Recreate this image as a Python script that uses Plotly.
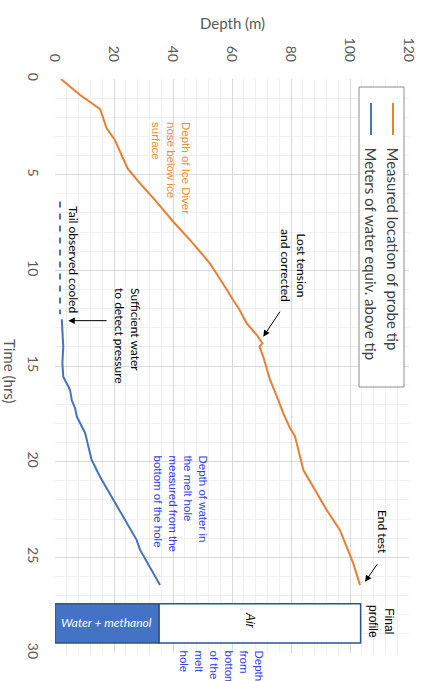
import plotly.graph_objects as go

# ---------------- data ----------------
probe_time = [0.0, 0.84, 1.58, 2.58, 3.19, 3.8, 4.67, 5.45, 6.33, 7.46, 8.42, 9.63, 10.5, 10.86,
              11.55, 11.99, 12.77, 13.38, 13.82, 13.99, 14.52, 15.73, 16.78, 17.48, 18.26, 18.7,
              20.44, 21.31, 22.53, 23.58, 25.32, 26.45]
probe_depth = [2.0, 8.5, 15.3, 17.5, 20.3, 22.0, 24.6, 28.8, 33.9, 40.1, 45.8, 52.5, 55.9, 57.6,
               60.4, 62.3, 65.0, 68.4, 70.3, 69.3, 70.6, 72.9, 75.7, 77.4, 79.7, 81.4,
               84.2, 87.6, 92.1, 96.6, 101.1, 103.4]

water_time = [12.56, 14.0, 14.85, 15.56, 16.26, 16.8, 17.2, 17.65, 18.5, 19.9, 20.8, 22.0,
              23.2, 24.1, 24.6, 26.45]
water_depth = [2.3, 2.8, 2.5, 2.8, 5.1, 5.7, 6.8, 7.4, 10.2, 12.4, 15.3, 19.8,
               24.3, 27.7, 28.8, 35.6]

tail_time = [6.4, 12.3]
tail_depth = [1.7, 1.7]

profile_time = [28.45]
profile_water = [35.3]
profile_air = [68.3]

depth_ticks = [0, 20, 40, 60, 80, 100, 120]
time_ticks = [0, 5, 10, 15, 20, 25, 30]

ORANGE = "#ED7D31"
BLUE = "#4472C4"

# plot area in pixels
L, R, T, B = 55, 409, 79, 653
W, H = 427, 681


def px(x):
    return (x - L) / (R - L)


def py(y):
    return (B - y) / (B - T)


fig = go.Figure()

fig.add_trace(go.Bar(y=profile_time, x=profile_water, base=[0], orientation="h", width=2.05,
                     marker=dict(color=BLUE, line=dict(color="#2F528F", width=1.5)),
                     showlegend=False, hoverinfo="skip"))
fig.add_trace(go.Bar(y=profile_time, x=profile_air, base=profile_water, orientation="h", width=2.05,
                     marker=dict(color="white", line=dict(color="#2F528F", width=1.5)),
                     showlegend=False, hoverinfo="skip"))

fig.add_trace(go.Scatter(x=probe_depth, y=probe_time, mode="lines",
                         line=dict(color=ORANGE, width=2), name="Measured location of probe tip"))
fig.add_trace(go.Scatter(x=water_depth, y=water_time, mode="lines",
                         line=dict(color=BLUE, width=2), name="Meters of water equiv. above tip"))
fig.add_trace(go.Scatter(x=tail_depth, y=tail_time, mode="lines",
                         line=dict(color=BLUE, width=2, dash="6px,6px"), showlegend=False))

ann = []


def rot(text, x, y, color="black", size=12, family="Lato", xanchor="center", yanchor="middle",
        align="center", angle=90, italic=False):
    ann.append(dict(text=text, x=px(x), y=py(y), xref="paper", yref="paper", showarrow=False,
                    textangle=angle, xanchor=xanchor, yanchor=yanchor, align=align,
                    font=dict(color=color, size=size, family=family,
                              style="italic" if italic else "normal")))


# axis titles
rot("Depth (m)", 232, 23, color="#595959", size=15, angle=0)
rot("Time (hrs)", 10, 371, color="#595959", size=15)

# legend text
rot("Measured location of probe tip", 393, 145, color="#404040", size=15, yanchor="top")
rot("Meters of water equiv. above tip", 371, 145, color="#404040", size=15, yanchor="top")

# annotations
rot("Depth of Ice Diver<br>nose below ice<br>surface", 171, 120, color="#F0902A", size=11.5,
    family="Liberation Sans", yanchor="top", align="left")
rot("Lost tension<br>and corrected", 294, 265, size=12)
rot("Sufficient water<br>to detect pressure", 128, 286, size=12, yanchor="top", align="left")
rot("Tail observed cooled", 74, 259, size=12)
rot("Depth of water in<br>the melt hole<br>measured from the<br>bottom of the hole", 180, 453,
    color="#3040EE", size=11.5, family="Liberation Sans", yanchor="top", align="left")
rot("End test", 383, 532, size=12)
rot("Final<br>profile", 381, 621, size=12, family="Liberation Sans")
rot("Air", 250, 620, size=12, family="Liberation Sans", italic=True)
rot("Water + methanol", 106, 622, color="white", size=12, angle=0, italic=True)
rot("Depth<br>from<br>bottom<br>of the<br>melt<br>hole", 221, 648, color="#3040EE", size=11.5,
    family="Liberation Sans", yanchor="top", align="left")

# arrows (data coordinates)
for (hx, hy, tx, ty) in [(4.5, 12.63, 18.0, 12.63), (70.6, 13.47, 76.6, 12.08),
                         (105.1, 26.28, 109.6, 25.28)]:
    ann.append(dict(x=hx, y=hy, ax=tx, ay=ty, xref="x", yref="y", axref="x", ayref="y",
                    text="", showarrow=True, arrowhead=2, arrowsize=1.3, arrowwidth=1,
                    arrowcolor="black"))

shapes = [
    dict(type="rect", xref="paper", yref="paper", x0=px(359), x1=px(404), y0=py(87), y1=py(387),
         line=dict(color="#8C8C8C", width=1), fillcolor="white", layer="above"),
    dict(type="line", xref="paper", yref="paper", x0=px(393), x1=px(393), y0=py(103), y1=py(135),
         line=dict(color=ORANGE, width=2), layer="above"),
    dict(type="line", xref="paper", yref="paper", x0=px(371), x1=px(371), y0=py(103), y1=py(135),
         line=dict(color=BLUE, width=2), layer="above"),
]

fig.update_layout(
    width=W, height=H, margin=dict(l=L, r=W - R, t=T, b=H - B, autoexpand=False),
    paper_bgcolor="white", plot_bgcolor="white", showlegend=False, barmode="overlay",
    annotations=ann, shapes=shapes,
    xaxis=dict(range=[0, 120], side="top", tickvals=depth_ticks, tickangle=90, automargin=False,
               tickfont=dict(family="Lato", size=14, color="#595959"),
               showgrid=True, gridcolor="#D9D9D9", gridwidth=1, zeroline=False, showline=False,
               ticks="", ticklabelstandoff=14,
               minor=dict(dtick=4, showgrid=True, gridcolor="#F0F0F0")),
    yaxis=dict(range=[30, 0], tickvals=time_ticks, tickangle=90, automargin=False,
               tickfont=dict(family="Lato", size=14, color="#595959"),
               showgrid=True, gridcolor="#D9D9D9", gridwidth=1, zeroline=False, showline=False,
               ticks="", ticklabelstandoff=12,
               minor=dict(dtick=1, showgrid=True, gridcolor="#F0F0F0")),
)

fig.write_html("out.html", config={"displayModeBar": False},
               post_script="document.body.style.margin='0';document.body.style.padding='0';")
